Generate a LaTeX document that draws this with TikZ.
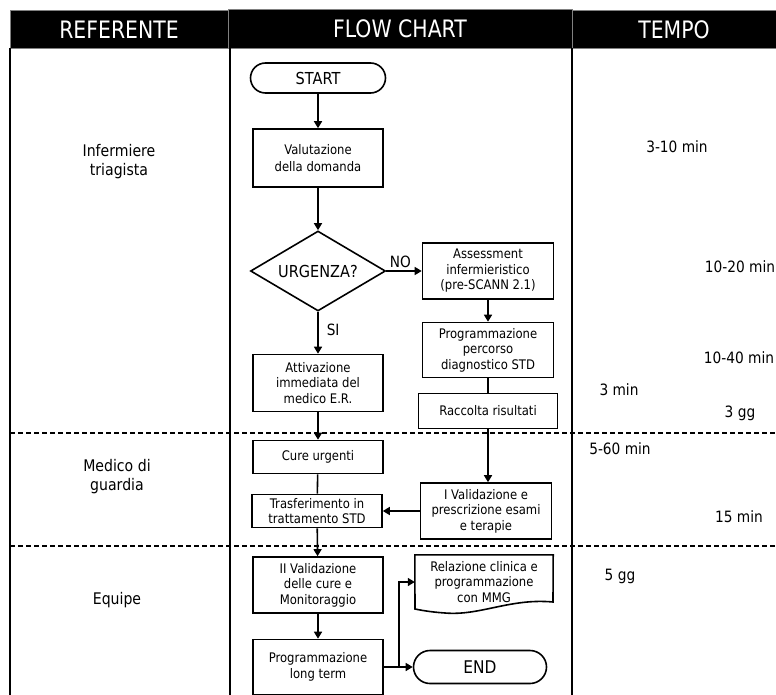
\documentclass[tikz,border=0pt]{standalone}
\usepackage{fontspec}
\setmainfont{DejaVu Sans}[FakeStretch=0.88]
\newfontfamily\headfont{DejaVu Sans}[FakeStretch=0.85]
\usetikzlibrary{arrows.meta,shapes.geometric,shapes.misc}
\begin{document}
\begin{tikzpicture}[x=1pt,y=-1pt,
  every node/.style={font=\fontsize{13.2}{15.5}\selectfont, inner sep=1pt},
  hdr/.style={fill=black, draw=gray, line width=0.6pt, text=white,
    font=\headfont\fontsize{24}{26}\selectfont, minimum height=38pt},
  box/.style={draw, line width=1.6pt, align=center, minimum width=130pt, minimum height=56pt},
  term/.style={draw, line width=1.6pt, rounded rectangle, minimum width=137pt, minimum height=30pt,
    font=\fontsize{16.5}{18}\selectfont},
  decision/.style={draw, line width=1.6pt, diamond, aspect=1.7, inner sep=0pt,
    minimum width=135pt, minimum height=80pt, font=\fontsize{16.5}{18}\selectfont},
  lane/.style={align=center, font=\fontsize{16}{19}\selectfont},
  tlabel/.style={font=\fontsize{15.6}{18}\selectfont},
  branch/.style={font=\fontsize{15.5}{18}\selectfont},
  frame/.style={line width=1.2pt},
  divider/.style={line width=1.3pt, dash pattern=on 5pt off 3pt},
  flow/.style={line width=1.6pt, -{Triangle[length=7pt,width=8pt]}},
  plain/.style={line width=1.6pt}
]
\useasboundingbox (0,0) rectangle (776,695);

% header bar
\node[hdr, minimum width=218pt] (hleft) at (119,29.5) {REFERENTE};
\node[hdr, minimum width=344pt, minimum height=39pt] (hmid) at (400,29) {FLOW CHART};
\node[hdr, minimum width=204pt] (hright) at (674,29.5) {TEMPO};

% lane frame
\draw[frame] (10,48) -- (10,695);
\draw[frame] (230,48) -- (230,695);
\draw[frame] (572,48) -- (572,695);
\draw[divider] (10,433) -- (776,433);
\draw[divider] (10,546) -- (776,546);

% lane owners
\node[lane] (lane1) at (119,162) {Infermiere\\triagista};
\node[lane] (lane2) at (117,477) {Medico di\\guardia};
\node[lane] (lane3) at (117,600) {Equipe};

% durations
\node[tlabel] (t1) at (677,147) {3-10 min};
\node[tlabel] (t2) at (740,267) {10-20 min};
\node[tlabel] (t3) at (739,358) {10-40 min};
\node[tlabel] (t4) at (619,390) {3 min};
\node[tlabel] (t5) at (740,413) {3 gg};
\node[tlabel] (t6) at (620,449) {5-60 min};
\node[tlabel] (t7) at (739,517) {15 min};
\node[tlabel] (t8) at (620,576) {5 gg};

% flow chart nodes
\node[term] (start) at (318,78) {START};
\node[box, minimum height=58pt, font=\fontsize{13.2}{16.5}\selectfont] (val) at (318,158) {Valutazione\\della domanda};
\node[decision] (urg) at (318,271) {URGENZA?};
\node[box, minimum width=131pt] (ass) at (488,271) {Assessment\\infermieristico\\(pre-SCANN 2.1)};
\node[box, minimum width=131pt, minimum height=55pt] (prog) at (488,350) {Programmazione\\percorso\\diagnostico STD};
\node[box, minimum width=139pt, minimum height=35pt] (racc) at (488,411) {Raccolta risultati};
\node[box, minimum height=57pt] (att) at (318,383) {Attivazione\\immediata del\\medico E.R.};
\node[box, minimum height=33pt] (cure) at (318,457) {Cure urgenti};
\node[box, minimum height=33pt] (tras) at (317,511) {Trasferimento in\\trattamento STD};
\node[box, minimum width=131pt] (ival) at (486,511) {I Validazione e\\prescrizione esami\\e terapie};
\node[box] (iival) at (318,585) {II Validazione\\delle cure e\\Monitoraggio};
\node[box, minimum height=55pt] (plt) at (318,667) {Programmazione\\long term};
\node[term, minimum width=135pt, minimum height=33pt, font=\fontsize{17.5}{19}\selectfont] (end) at (480,667) {END};
\node[align=center, minimum width=138pt, minimum height=54pt] (rel) at (484,582) {Relazione clinica e\\programmazione\\con MMG};

% document outline with wavy bottom
\draw[plain, line join=miter] (rel.north west) -- (rel.north east) -- (553,602)
  .. controls (510,598) and (480,616) .. (445,613)
  .. controls (430,612) and (420,610) .. (415,609) -- cycle;

% connectors
\draw[flow] (start) -- (val);
\draw[flow] (val) -- (urg);
\draw[flow] (urg.east) -- node[above, pos=0.4, inner sep=2pt, branch] (nolab) {NO} (ass.west);
\draw[flow] (urg.south) -- node[right, pos=0.42, inner sep=8pt, branch] (silab) {SI} (att.north);
\draw[flow] (ass) -- (prog);
\draw[plain] (prog) -- (racc);
\draw[flow] (racc.south) -- (racc.south |- ival.north);
\draw[flow] (att) -- (cure);
\draw[plain] (cure) -- (tras);
\draw[flow] (ival.west) -- (tras.east);
\draw[flow] (tras) -- (iival);
\draw[flow] (iival) -- (plt);
\draw[flow] (plt.east) -- (end.west);
\coordinate (split) at (399,667);
\draw[flow] (split) |- (rel.west);
\end{tikzpicture}
\end{document}
